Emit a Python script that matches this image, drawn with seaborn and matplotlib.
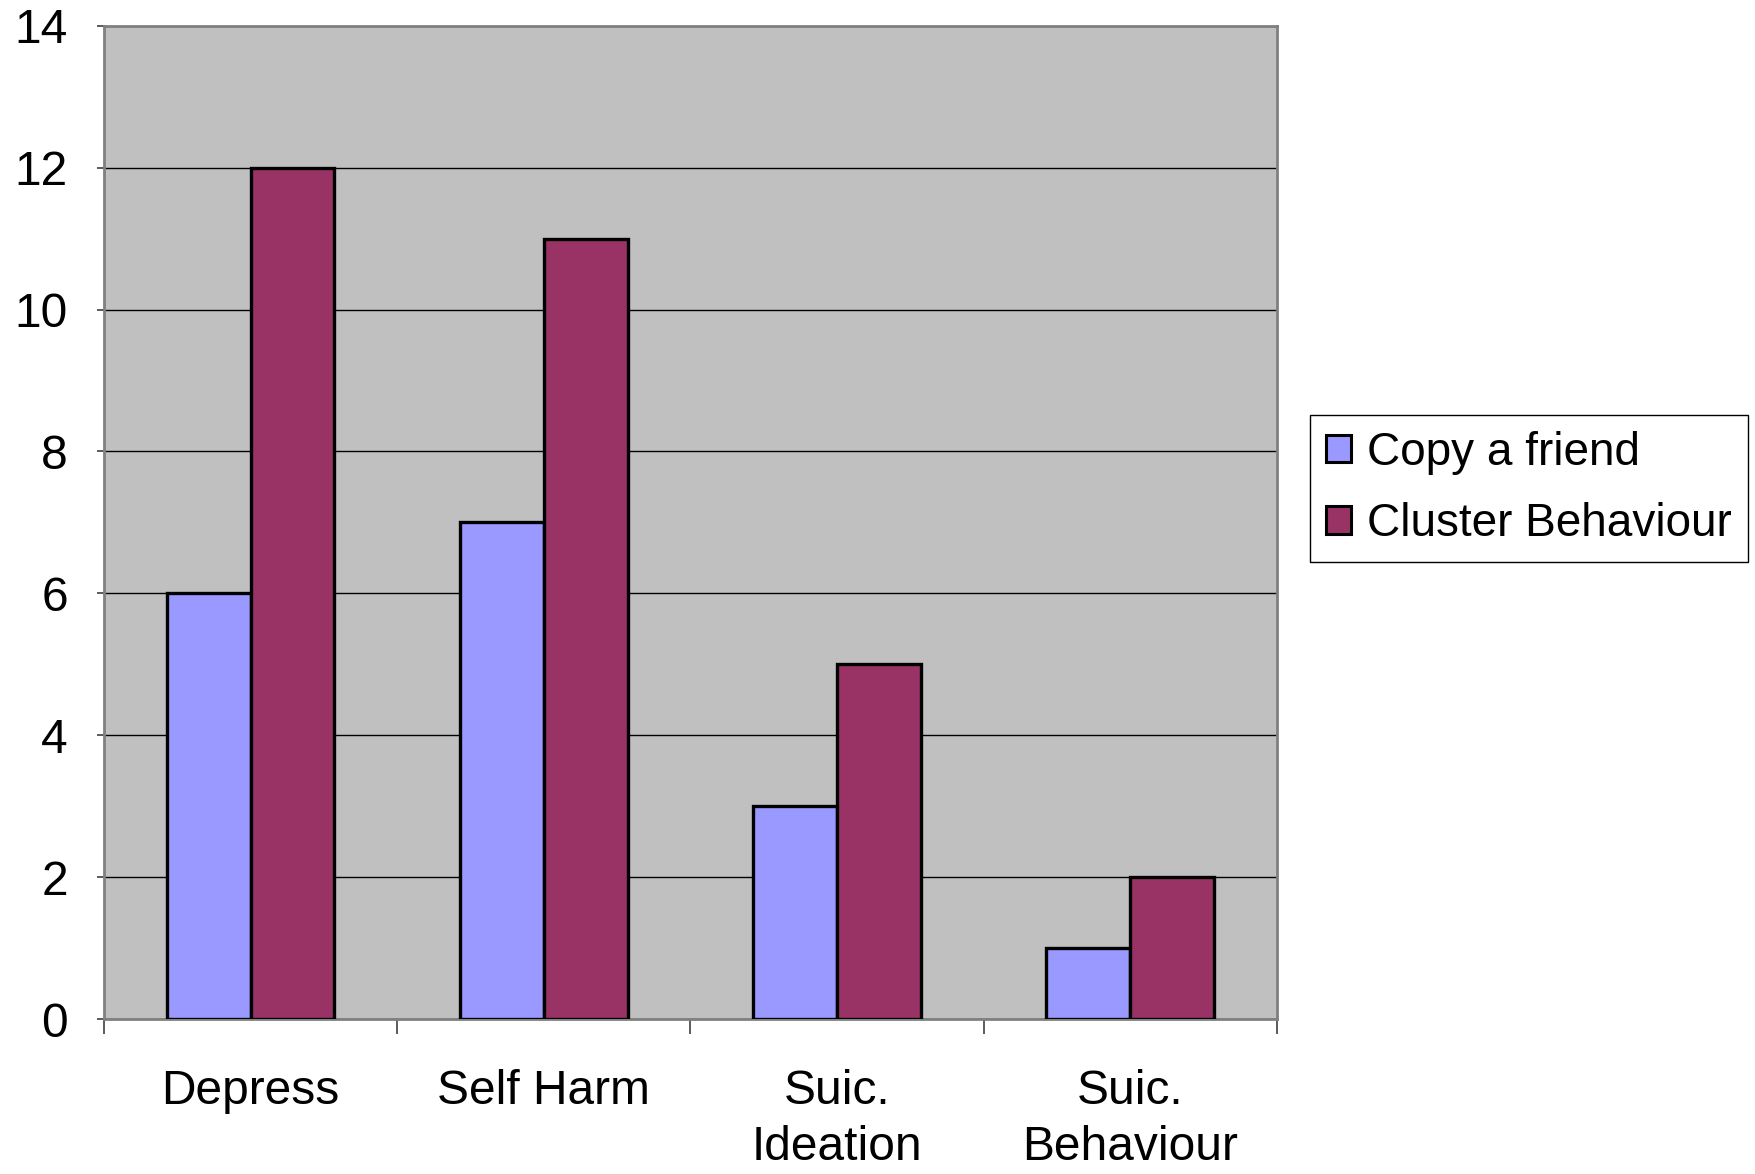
import matplotlib
matplotlib.use("Agg")
import matplotlib.pyplot as plt
from matplotlib.patches import Patch
import seaborn as sns
import pandas as pd
import numpy as np

categories = ["Depress", "Self Harm", "Suic.\nIdeation", "Suic.\nBehaviour"]
series_names = ["Copy a friend", "Cluster Behaviour"]
copy_a_friend = [6, 7, 3, 1]
cluster_behaviour = [12, 11, 5, 2]
colors = ["#9999FF", "#993366"]
y_ticks = [0, 2, 4, 6, 8, 10, 12, 14]

sns.set_theme(style="white")
plt.rcParams["font.family"] = ["Liberation Sans", "DejaVu Sans"]
plt.rcParams["text.color"] = "black"

df = pd.DataFrame({
    "category": categories * 2,
    "series": [series_names[0]] * 4 + [series_names[1]] * 4,
    "value": copy_a_friend + cluster_behaviour,
})

fig = plt.figure(figsize=(17.56, 11.74), dpi=100)
ax = fig.add_axes([0.0592, 0.132, 0.668, 0.846])
ax.set_facecolor("#C0C0C0")

sns.barplot(data=df, x="category", y="value", hue="series", order=categories,
            hue_order=series_names, palette=colors, width=0.572, gap=0,
            edgecolor="black", linewidth=2.4, saturation=1, ax=ax, legend=False,
            errorbar=None, zorder=3)

ax.set_xlim(-0.5, len(categories) - 0.5)
ax.set_ylim(0, 14)
ax.set_yticks(y_ticks)
ax.set_yticklabels([str(t) for t in y_ticks], fontsize=34.5)
ax.yaxis.grid(True, color="black", linewidth=1.0, zorder=0)
ax.set_axisbelow(True)
ax.tick_params(axis="y", direction="out", length=5, width=1.2, color="#404040",
               labelcolor="black", pad=21, left=True)

# category labels at centres, tick marks at category boundaries
ax.set_xticks(np.arange(len(categories)))
ax.set_xticklabels(categories, fontsize=34.5, linespacing=1.32)
ax.tick_params(axis="x", which="major", length=0, pad=36, labelcolor="black")
ax.set_xticks(np.arange(len(categories) + 1) - 0.5, minor=True)
ax.tick_params(axis="x", which="minor", direction="out", length=11, width=1.2,
               color="#404040", bottom=True)

ax.set_xlabel("")
ax.set_ylabel("")
for side in ["left", "bottom", "top", "right"]:
    ax.spines[side].set_visible(True)
    ax.spines[side].set_color("#808080")
    ax.spines[side].set_linewidth(2.0)

handles = [Patch(facecolor=c, edgecolor="black", linewidth=2.2) for c in colors]
leg = fig.legend(handles, series_names, loc="center left",
                 bbox_to_anchor=(0.746, 0.584), fontsize=33, frameon=True,
                 fancybox=False, edgecolor="black", framealpha=1,
                 handlelength=0.55, handleheight=0.55, handletextpad=0.35,
                 borderpad=0.35, labelspacing=0.6, borderaxespad=0)
leg.get_frame().set_linewidth(1.0)
for t in leg.get_texts():
    t.set_color("black")

fig.savefig("out.png", dpi=100, facecolor="white")
